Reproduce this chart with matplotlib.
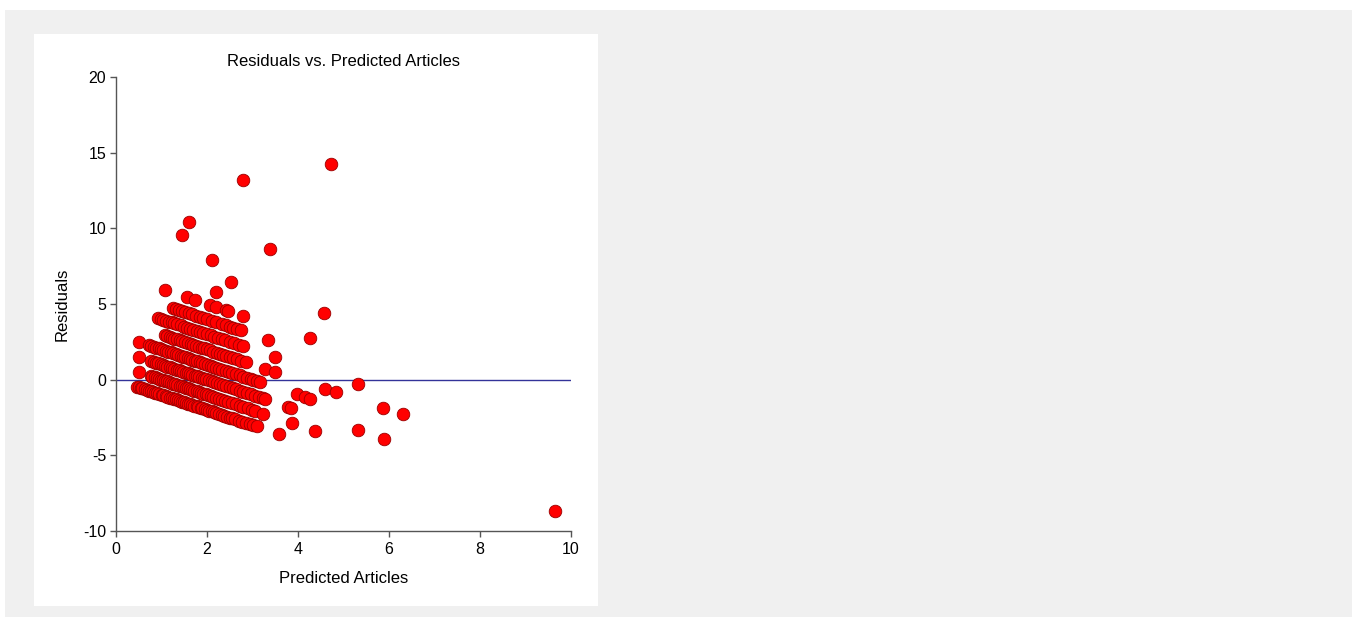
import numpy as np
import matplotlib.pyplot as plt
from matplotlib.patches import Rectangle

# predicted article counts, grouped by the observed number of articles
pred_art0 = [0.47, 0.5, 0.54, 0.58, 0.63, 0.68, 0.72, 0.77, 0.82, 0.86, 0.91, 0.95, 1.0, 1.04,
             1.09, 1.13, 1.18, 1.22, 1.27, 1.31, 1.36, 1.4, 1.45, 1.5, 1.54, 1.59, 1.63, 1.68,
             1.72, 1.77, 1.81, 1.86, 1.9, 1.95, 2.0, 2.05, 2.1, 2.15, 2.2, 2.26, 2.32, 2.38,
             2.44, 2.5, 2.56, 2.62, 2.7, 2.78, 2.86, 2.95, 3.02, 3.09, 3.59]
pred_art1 = [0.5, 0.76, 0.8, 0.85, 0.9, 0.94, 0.99, 1.03, 1.08, 1.12, 1.17, 1.21, 1.26, 1.3,
             1.35, 1.4, 1.44, 1.49, 1.53, 1.58, 1.62, 1.67, 1.72, 1.77, 1.82, 1.87, 1.92, 1.97,
             2.02, 2.08, 2.14, 2.2, 2.26, 2.33, 2.4, 2.47, 2.55, 2.63, 2.72, 2.8, 2.9, 2.98,
             3.05, 3.24, 3.86, 4.37, 9.65]
pred_art2 = [0.5, 0.78, 0.83, 0.88, 0.93, 0.98, 1.03, 1.08, 1.13, 1.18, 1.23, 1.28, 1.33, 1.38,
             1.43, 1.48, 1.53, 1.58, 1.63, 1.68, 1.73, 1.78, 1.83, 1.88, 1.93, 1.98, 2.04, 2.1,
             2.16, 2.22, 2.28, 2.35, 2.42, 2.5, 2.57, 2.64, 2.72, 2.8, 2.88, 2.97, 3.06, 3.14,
             3.22, 3.28, 3.79, 3.84, 5.31, 5.89]
pred_art3 = [0.5, 0.73, 0.78, 0.83, 0.88, 0.94, 0.99, 1.04, 1.1, 1.15, 1.2, 1.26, 1.31, 1.36,
             1.42, 1.47, 1.52, 1.58, 1.63, 1.68, 1.74, 1.79, 1.85, 1.9, 1.96, 2.02, 2.08, 2.14,
             2.2, 2.27, 2.34, 2.41, 2.48, 2.56, 2.64, 2.72, 2.8, 2.88, 2.96, 3.02, 3.1, 3.16,
             3.97, 4.15, 4.26]
pred_art4 = [1.08, 1.13, 1.18, 1.23, 1.28, 1.34, 1.4, 1.46, 1.52, 1.58, 1.64, 1.7, 1.76, 1.82,
             1.88, 1.94, 2.0, 2.07, 2.14, 2.21, 2.28, 2.35, 2.42, 2.5, 2.58, 2.66, 2.75, 2.86,
             3.27, 3.49, 4.59, 4.84, 5.87, 6.3]
pred_art5 = [0.93, 0.98, 1.04, 1.1, 1.16, 1.22, 1.28, 1.35, 1.42, 1.49, 1.56, 1.63, 1.7, 1.77,
             1.84, 1.92, 2.0, 2.08, 2.16, 2.24, 2.32, 2.4, 2.5, 2.6, 2.7, 2.8, 3.49, 5.31]
pred_art6 = [1.26, 1.32, 1.38, 1.45, 1.52, 1.6, 1.68, 1.76, 1.84, 1.92, 2.0, 2.1, 2.2, 2.32,
             2.42, 2.5, 2.58, 2.66, 2.75, 3.35]
pred_art7 = [1.08, 1.55, 1.74, 2.07, 2.19, 2.41, 2.47, 2.8, 4.26]
pred_art8 = [2.19]
pred_art9 = [2.53, 4.57]
pred_art10 = [2.12]
pred_art11 = [1.45]
pred_art12 = [1.6, 3.38]
pred_art16 = [2.8]
pred_art19 = [4.73]

groups = [(0, pred_art0), (1, pred_art1), (2, pred_art2), (3, pred_art3), (4, pred_art4),
          (5, pred_art5), (6, pred_art6), (7, pred_art7), (8, pred_art8), (9, pred_art9),
          (10, pred_art10), (11, pred_art11), (12, pred_art12), (16, pred_art16),
          (19, pred_art19)]

predicted = np.concatenate([np.array(p, dtype=float) for _, p in groups])
observed = np.concatenate([np.full(len(p), k, dtype=float) for k, p in groups])
residuals = observed - predicted

plt.rcParams['font.family'] = ['Liberation Sans', 'DejaVu Sans']
plt.rcParams['axes.unicode_minus'] = False

fig = plt.figure(figsize=(13.56, 6.22), dpi=100)
fig.patch.set_facecolor('white')

# gray page and white chart panel
fig.patches.append(Rectangle((5 / 1356, 5 / 622), 1347 / 1356, 607 / 622,
                             transform=fig.transFigure, facecolor='#f0f0f0',
                             edgecolor='none', zorder=-10))
fig.patches.append(Rectangle((34 / 1356, 16 / 622), 564 / 1356, 572 / 622,
                             transform=fig.transFigure, facecolor='white',
                             edgecolor='none', zorder=-9))

ax = fig.add_axes([116 / 1356, 91 / 622, 455 / 1356, 454 / 622])
ax.patch.set_alpha(0)

ax.axhline(0, color='#333399', linewidth=1.0, zorder=1)
ax.scatter(predicted, residuals, s=82, facecolor='#ff0000', edgecolor='#9a0000',
           linewidth=0.6, zorder=3)

ax.set_xlim(0, 10)
ax.set_ylim(-10, 20)
ax.set_xticks([0, 2, 4, 6, 8, 10])
ax.set_yticks([-10, -5, 0, 5, 10, 15, 20])

for side in ['top', 'right']:
    ax.spines[side].set_visible(False)
for side in ['left', 'bottom']:
    ax.spines[side].set_color('#555555')
    ax.spines[side].set_linewidth(1.0)

ax.tick_params(direction='out', length=4, width=1, color='#555555',
               labelsize=11.5, labelcolor='black', pad=3)
ax.tick_params(axis='x', pad=4)

ax.set_title('Residuals vs. Predicted Articles', fontsize=12, pad=8)
ax.set_xlabel('Predicted Articles', fontsize=12, labelpad=10)
ax.set_ylabel('Residuals', fontsize=12, labelpad=10)

fig.savefig('out.png', dpi=100)
